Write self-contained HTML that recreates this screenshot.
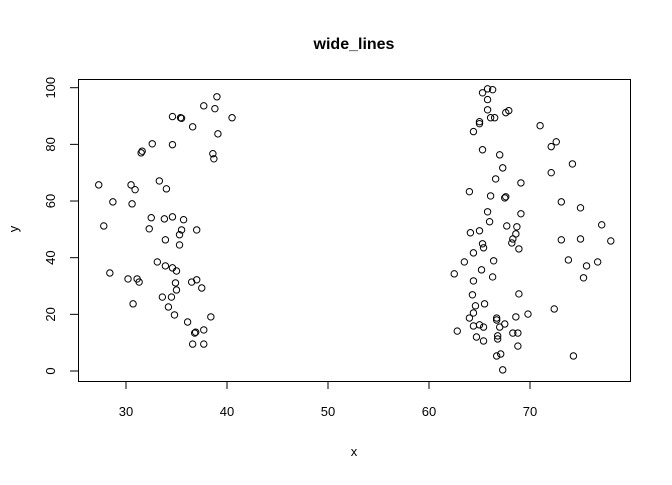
<!DOCTYPE html>
<html><head><meta charset="utf-8"><style>
body{margin:0;background:#fff}
svg text{font-family:"Liberation Sans",Arial,sans-serif;fill:#000}
</style></head><body>
<svg id="chart" width="672" height="480" viewBox="0 0 672 480">
<rect width="672" height="480" fill="#fff"/>
<text x="354" y="49" text-anchor="middle" font-size="16" font-weight="bold">wide_lines</text>
<rect x="78.5" y="79.5" width="552" height="302" fill="none" stroke="#000"/>
<g id="xaxis"></g>
<g id="yaxis"></g>
<text x="354" y="456" text-anchor="middle" font-size="13">x</text>
<text x="18" y="229" text-anchor="middle" font-size="13" transform="rotate(-90 18 229)">y</text>
<g id="points"></g>
</svg>
<script>
const xTicks=[30,40,50,60,70];
const yTicks=[0,20,40,60,80,100];
const xs=[39.0,37.7,38.8,34.6,35.4,35.5,40.5,36.6,39.1,32.6,34.6,31.5,31.6,38.6,38.7,27.3,30.5,30.9,33.3,34.0,28.7,30.6,27.8,32.3,32.5,33.8,34.6,35.7,35.5,37.0,35.3,33.9,35.3,33.1,33.9,34.6,35.0,28.4,30.2,31.1,31.3,34.9,36.5,37.0,37.5,35.0,33.6,34.5,30.7,34.2,34.8,38.4,36.1,37.7,36.8,36.9,36.6,37.7,
65.8,66.3,65.3,65.8,65.8,67.9,67.6,66.1,66.5,65.0,65.0,64.4,71.0,72.6,72.1,65.3,67.0,74.2,67.3,72.1,66.6,69.1,64.0,66.1,67.6,67.5,73.1,75.0,65.8,69.1,66.0,67.7,68.7,77.1,64.1,65.0,68.6,68.3,68.2,65.3,65.4,68.9,64.4,73.1,75.0,78.0,63.5,66.4,73.8,76.7,75.6,65.2,62.5,66.3,75.3,64.4,64.3,68.9,65.5,64.6,72.4,64.4,69.8,64.0,66.7,66.7,68.6,67.5,67.0,64.4,65.0,65.4,62.8,68.3,68.8,64.7,65.4,66.8,66.8,68.8,67.1,66.7,74.3,67.3];
const ys=[96.8,93.6,92.6,89.8,89.4,89.2,89.4,86.2,83.7,80.2,79.9,77.0,77.6,76.7,74.9,65.7,65.7,64.0,67.1,64.3,59.7,59.0,51.2,50.2,54.1,53.7,54.4,53.4,49.8,49.8,48.1,46.3,44.5,38.5,37.1,36.4,35.3,34.6,32.5,32.5,31.4,31.1,31.4,32.2,29.3,28.6,26.1,26.1,23.7,22.6,19.8,19.1,17.3,14.5,13.4,13.7,9.5,9.5,
99.6,99.3,98.2,95.8,92.2,91.9,91.2,89.4,89.4,88.0,87.3,84.5,86.6,80.9,79.2,78.1,76.3,73.1,71.7,70.0,67.8,66.4,63.3,61.8,61.5,61.1,59.7,57.6,56.2,55.5,52.7,51.2,50.9,51.6,48.8,49.5,48.4,46.6,45.2,44.9,43.5,43.1,41.7,46.3,46.6,45.9,38.5,38.9,39.2,38.5,37.1,35.7,34.3,33.2,32.9,31.8,26.9,27.2,23.7,23.0,21.9,20.5,20.1,18.7,18.7,18.0,19.1,16.6,15.5,15.9,16.3,15.5,14.1,13.4,13.4,12.0,10.6,12.4,11.3,8.8,6.0,5.3,5.3,0.4];
const NS='http://www.w3.org/2000/svg';
function sx(v){return 126+(v-30)*10.1;}
function sy(v){return 371-v*2.833;}
function mk(t,a,p){const e=document.createElementNS(NS,t);for(const k in a)e.setAttribute(k,a[k]);p.appendChild(e);return e;}
const xa=document.getElementById('xaxis'),ya=document.getElementById('yaxis'),pg=document.getElementById('points');
xTicks.forEach(t=>{
 const l=mk('line',{x1:sx(t),x2:sx(t),y1:382,y2:389,stroke:'#000'},xa);
 
 
 const tx=mk('text',{x:sx(t),y:416,'text-anchor':'middle','font-size':13},xa);tx.textContent=t;
 
 
});
yTicks.forEach(t=>{
 const l=mk('line',{x1:70,x2:78,y1:sy(t),y2:sy(t),stroke:'#000'},ya);
 
 
 const tx=mk('text',{x:55,y:sy(t),'text-anchor':'middle','font-size':13,transform:`rotate(-90 55 ${sy(t)})`},ya);tx.textContent=t;
 
 
});
xs.forEach((v,i)=>{
 const c=mk('circle',{cx:sx(v),cy:sy(ys[i]),r:3.2,fill:'none',stroke:'#000','stroke-width':1},pg);
 
 
});
</script>
</body></html>
